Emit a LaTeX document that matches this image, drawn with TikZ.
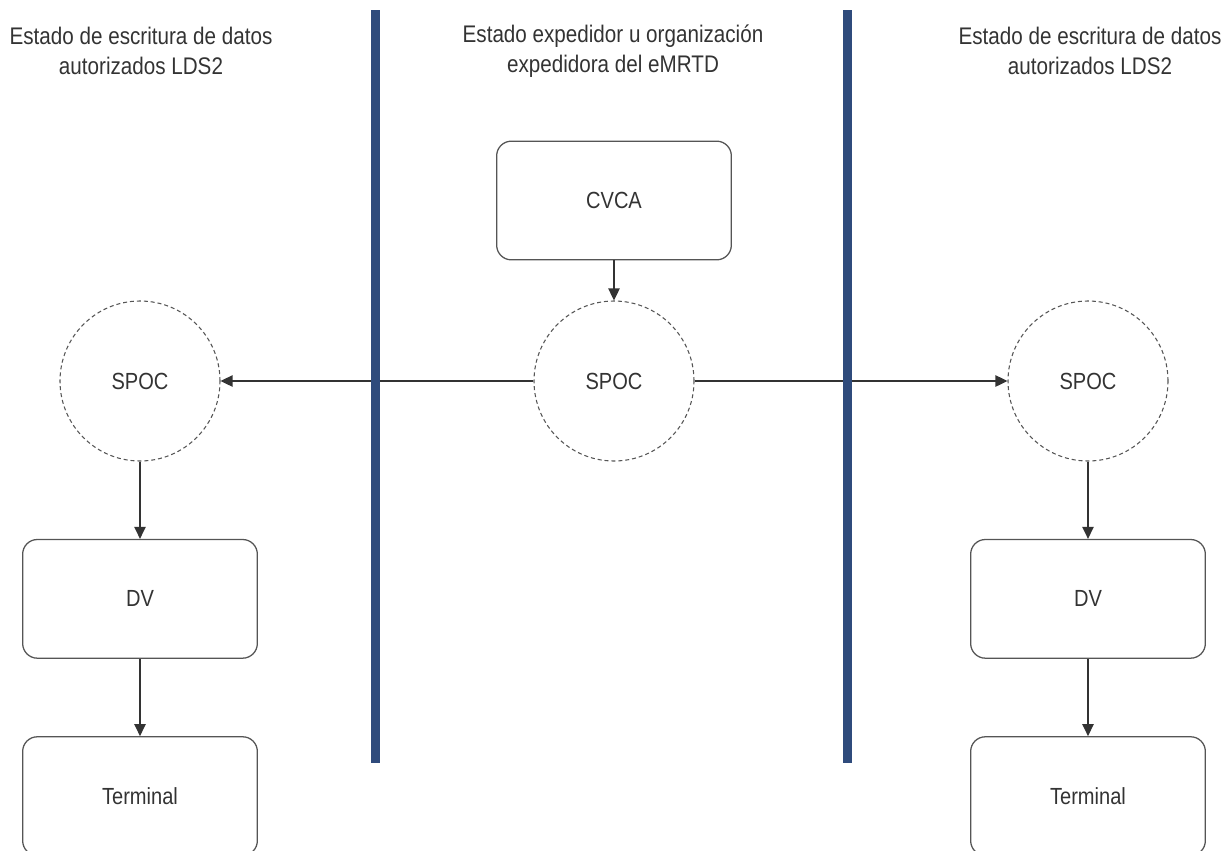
\documentclass[tikz,border=0pt]{standalone}
\usepackage{fontspec}
\setmainfont[FakeStretch=0.86]{Liberation Sans}
\usetikzlibrary{shapes,arrows.meta,positioning}
\definecolor{Ink}{HTML}{333333}
\definecolor{Edge}{HTML}{555555}
\definecolor{Bar}{HTML}{2F4B7C}
\tikzstyle{Block} = [draw=Edge, rectangle, rounded corners=11pt, minimum width=176pt, minimum height=89pt, line width=0.95pt, text=Ink, font=\fontsize{17.5}{20}\selectfont]
\tikzstyle{Spoc} = [draw=Edge, circle, dash pattern=on 3pt off 2.2pt, minimum size=120pt, line width=0.8pt, text=Ink, font=\fontsize{17.5}{20}\selectfont]
\tikzstyle{Header} = [align=center, text=Ink, font=\fontsize{18}{23}\selectfont]
\tikzstyle{Divider} = [draw=Bar, line width=6.75pt]
\tikzstyle{Link} = [draw=Ink, line width=1pt, -{Triangle[length=9pt,width=8.5pt]}]

\begin{document}
\begin{tikzpicture}[x=0.75pt, y=-0.75pt, node distance=58pt]
    \useasboundingbox (0,0) rectangle (1227,850);
    % column headers
    \node[Header] (headleft)  at (141,51)  {Estado de escritura de datos\\autorizados LDS2};
    \node[Header] (headmid)   at (613,51)  {Estado expedidor u organización\\expedidora del eMRTD};
    \node[Header] (headright) at (1090,51) {Estado de escritura de datos\\autorizados LDS2};
    % issuing state
    \node[Spoc]  (spocmid)   at (614,381)                 {SPOC};
    \node[Block] (cvca)      [above=30pt of spocmid]      {CVCA};
    % left state
    \node[Spoc]  (spocleft)  at (140,381)                 {SPOC};
    \node[Block] (dvleft)    [below=of spocleft]          {DV};
    \node[Block] (termleft)  [below=of dvleft]            {Terminal};
    % right state
    \node[Spoc]  (spocright) at (1088,381)                {SPOC};
    \node[Block] (dvright)   [below=of spocright]         {DV};
    \node[Block] (termright) [below=of dvright]           {Terminal};
    \draw[Link] (cvca)      to (spocmid);
    \draw[Link] (spocmid)   to (spocleft);
    \draw[Link] (spocmid)   to (spocright);
    \draw[Link] (spocleft)  to (dvleft);
    \draw[Link] (dvleft)    to (termleft);
    \draw[Link] (spocright) to (dvright);
    \draw[Link] (dvright)   to (termright);
    % borders between states
    \draw[Divider] (375,10) -- (375,763);
    \draw[Divider] (847,10) -- (847,763);
  \end{tikzpicture}
\end{document}
